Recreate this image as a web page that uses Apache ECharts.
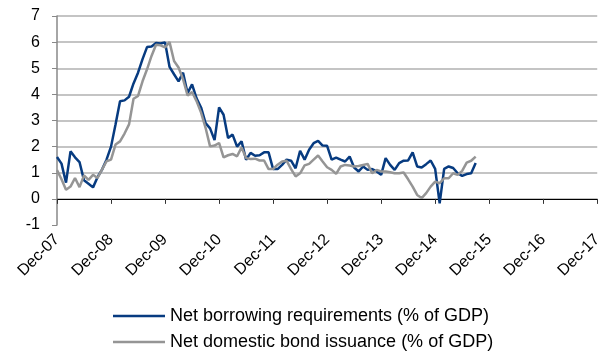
<!DOCTYPE html>
<html>
<head>
<meta charset="utf-8">
<script src="https://cdn.jsdelivr.net/npm/echarts@6/dist/echarts.min.js"></script>
<style>
  html, body { margin: 0; padding: 0; background: #fff; }
  #chart { width: 605px; height: 352px; }
</style>
</head>
<body>
<div id="chart"></div>
<script>
// ticks on the date axis, one per year
const tickLabels = ['Dec-07', 'Dec-08', 'Dec-09', 'Dec-10', 'Dec-11', 'Dec-12', 'Dec-13', 'Dec-14', 'Dec-15', 'Dec-16', 'Dec-17'];
const monthNames = ['Dec', 'Jan', 'Feb', 'Mar', 'Apr', 'May', 'Jun', 'Jul', 'Aug', 'Sep', 'Oct', 'Nov'];
const seriesNames = ['Net borrowing requirements (% of GDP)', 'Net domestic bond issuance (% of GDP)'];

// monthly values from Dec-07
const borrowing = [
  1.6, 1.35, 0.62, 1.82, 1.59, 1.41, 0.71, 0.58, 0.44, 0.83, 1.12, 1.5,
  2.0, 2.85, 3.74, 3.77, 3.91, 4.42, 4.83, 5.35, 5.81, 5.83, 5.97, 5.95,
  5.99, 5.05, 4.77, 4.5, 4.83, 4.05, 4.38, 3.85, 3.5, 2.9, 2.7, 2.25,
  3.5, 3.22, 2.33, 2.46, 2.0, 2.2, 1.5, 1.76, 1.65, 1.67, 1.78, 1.78,
  1.14, 1.14, 1.3, 1.5, 1.46, 1.17, 1.84, 1.5, 1.88, 2.13, 2.22, 2.04,
  2.03, 1.5, 1.58, 1.5, 1.43, 1.62, 1.2, 1.05, 1.24, 1.11, 1.14, 1.05,
  0.92, 1.56, 1.3, 1.11, 1.37, 1.46, 1.47, 1.78, 1.24, 1.2, 1.33, 1.47,
  1.15, -0.17, 1.15, 1.24, 1.18, 0.98, 0.88, 0.95, 0.98, 1.37
];
const bondIssuance = [
  1.1, 0.75, 0.35, 0.47, 0.8, 0.45, 0.9, 0.73, 0.92, 0.8, 1.12, 1.44,
  1.5, 2.08, 2.2, 2.5, 2.85, 3.83, 3.94, 4.5, 4.96, 5.47, 5.9, 5.88,
  5.8, 6.0, 5.28, 5.03, 4.58, 3.96, 4.09, 3.74, 3.3, 2.72, 2.01, 2.04,
  2.14, 1.59, 1.67, 1.72, 1.63, 1.97, 1.56, 1.53, 1.54, 1.47, 1.47, 1.14,
  1.14, 1.31, 1.43, 1.46, 1.14, 0.86, 0.98, 1.28, 1.34, 1.5, 1.66, 1.43,
  1.21, 1.11, 0.96, 1.24, 1.3, 1.28, 1.24, 1.26, 1.3, 1.34, 0.98, 1.11,
  1.05, 1.05, 1.02, 0.98, 0.98, 1.01, 0.75, 0.47, 0.15, 0.03, 0.22, 0.47,
  0.66, 0.6, 0.79, 0.79, 0.98, 0.92, 1.07, 1.39, 1.46, 1.62
];

// month categories Dec-07 .. Dec-17
let categories = [];
tickLabels.forEach((lbl, i) => {
  if (i == tickLabels.length - 1) {
    categories.push(lbl);
    return;
  }
  monthNames.forEach((m, k) => {
    let yy = 7 + i + (k > 0 ? 1 : 0);
    categories.push(m + '-' + String(yy).padStart(2, '0'));
  });
});

const fontFamily = 'Liberation Sans, Arial, sans-serif';
const blue = '#073B80';
const grey = '#959595';

// one legend per row, a plain line as the icon
function legendRow(name, top) {
  return {
    left: 113,
    top: top,
    padding: 0,
    icon: 'rect',
    itemWidth: 52,
    itemHeight: 2.5,
    textStyle: { fontFamily: fontFamily, fontSize: 18, color: '#000' },
    data: [name]
  };
}

let myChart = echarts.init(document.getElementById('chart'));
let option = {
  backgroundColor: '#fff',
  animation: false,
  grid: { left: 57, right: 6, top: 16, bottom: 127 },
  legend: [legendRow(seriesNames[0], 307), legendRow(seriesNames[1], 333)],
  xAxis: [
    {
      type: 'category',
      data: categories,
      boundaryGap: false,
      position: 'bottom',
      axisLine: { show: false, onZero: false },
      axisTick: { show: false },
      axisLabel: {
        interval: 11,
        rotate: 45,
        margin: 12,
        fontFamily: fontFamily,
        fontSize: 16,
        color: '#000'
      },
      splitLine: { show: false }
    },
    {
      // line at zero with the year ticks
      type: 'category',
      data: categories,
      boundaryGap: false,
      position: 'top',
      axisLine: { show: true, onZero: true, onZeroAxisIndex: 0, lineStyle: { color: '#000', width: 1 } },
      axisTick: { show: true, inside: true, interval: 11, length: 5, lineStyle: { color: '#333' } },
      axisLabel: { show: false },
      splitLine: { show: false }
    }
  ],
  yAxis: {
    type: 'value',
    min: -1,
    max: 7,
    interval: 1,
    axisLine: { show: true, lineStyle: { color: '#888', width: 1.5 } },
    axisTick: { show: true, length: 5, lineStyle: { color: '#888' } },
    axisLabel: { margin: 17, fontFamily: fontFamily, fontSize: 16, color: '#000' },
    splitLine: { show: true, showMinLine: false, lineStyle: { color: '#c4c4c4', width: 2 } }
  },
  series: [
    {
      name: seriesNames[0],
      type: 'line',
      xAxisIndex: 0,
      data: borrowing,
      symbol: 'none',
      lineStyle: { color: blue, width: 2.5 },
      itemStyle: { color: blue }
    },
    {
      name: seriesNames[1],
      type: 'line',
      xAxisIndex: 0,
      data: bondIssuance,
      symbol: 'none',
      lineStyle: { color: grey, width: 2.5 },
      itemStyle: { color: grey }
    }
  ]
};
myChart.setOption(option);
</script>
</body>
</html>
